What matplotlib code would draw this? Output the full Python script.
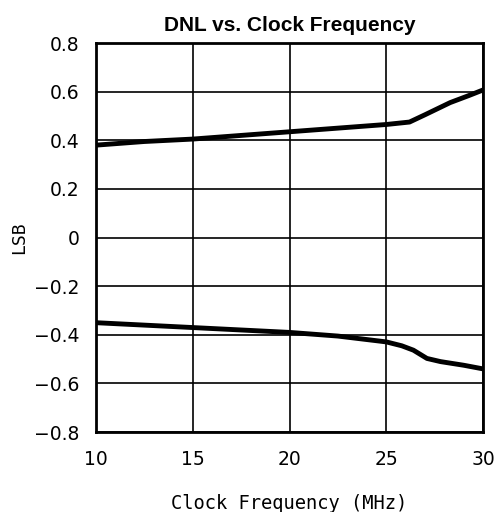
import numpy as np
import matplotlib.pyplot as plt

# clock frequency (MHz) and DNL (LSB)
freq_pos = [10, 12.5, 15, 17.5, 20, 22.5, 25, 26.2, 27, 28.3, 29.3, 30]
dnl_pos = [0.38, 0.395, 0.405, 0.42, 0.435, 0.45, 0.465, 0.475, 0.505, 0.555, 0.585, 0.607]

freq_neg = [10, 12.5, 15, 17.5, 20, 22.5, 25, 25.8, 26.4, 27.1, 27.8, 29, 30]
dnl_neg = [-0.35, -0.36, -0.37, -0.38, -0.39, -0.405, -0.429, -0.445, -0.463, -0.497, -0.51, -0.525, -0.54]

y_ticks = [-0.8, -0.6, -0.4, -0.2, 0, 0.2, 0.4, 0.6, 0.8]
y_labels = ["\u22120.8", "\u22120.6", "\u22120.4", "\u22120.2", "0", "0.2", "0.4", "0.6", "0.8"]

fig = plt.figure(figsize=(4.97, 5.12), dpi=100)
ax = fig.add_axes([0.193, 0.156, 0.779, 0.76])

ax.plot(freq_pos, dnl_pos, color="black", linewidth=3.5)
ax.plot(freq_neg, dnl_neg, color="black", linewidth=3.5)

ax.set_xlim(10, 30)
ax.set_ylim(-0.8, 0.8)
ax.set_xticks([10, 15, 20, 25, 30])
ax.set_yticks(y_ticks)
ax.set_yticklabels(y_labels)
ax.grid(True, color="black", linewidth=1.2)
ax.tick_params(length=0, labelsize=13.5)
ax.tick_params(axis="x", pad=13)
ax.tick_params(axis="y", pad=12)
for s in ax.spines.values():
    s.set_linewidth(2)

ax.set_xlabel("Clock Frequency (MHz)", fontsize=13.5, family="DejaVu Sans Mono", labelpad=18)
ax.set_ylabel("LSB", fontsize=13, family="DejaVu Sans Mono")
ax.yaxis.set_label_coords(-0.175, 0.5)
ax.set_title("DNL vs. Clock Frequency", fontsize=15, fontweight="bold",
             family="Liberation Sans", pad=9)

fig.savefig("out.png", dpi=100)
